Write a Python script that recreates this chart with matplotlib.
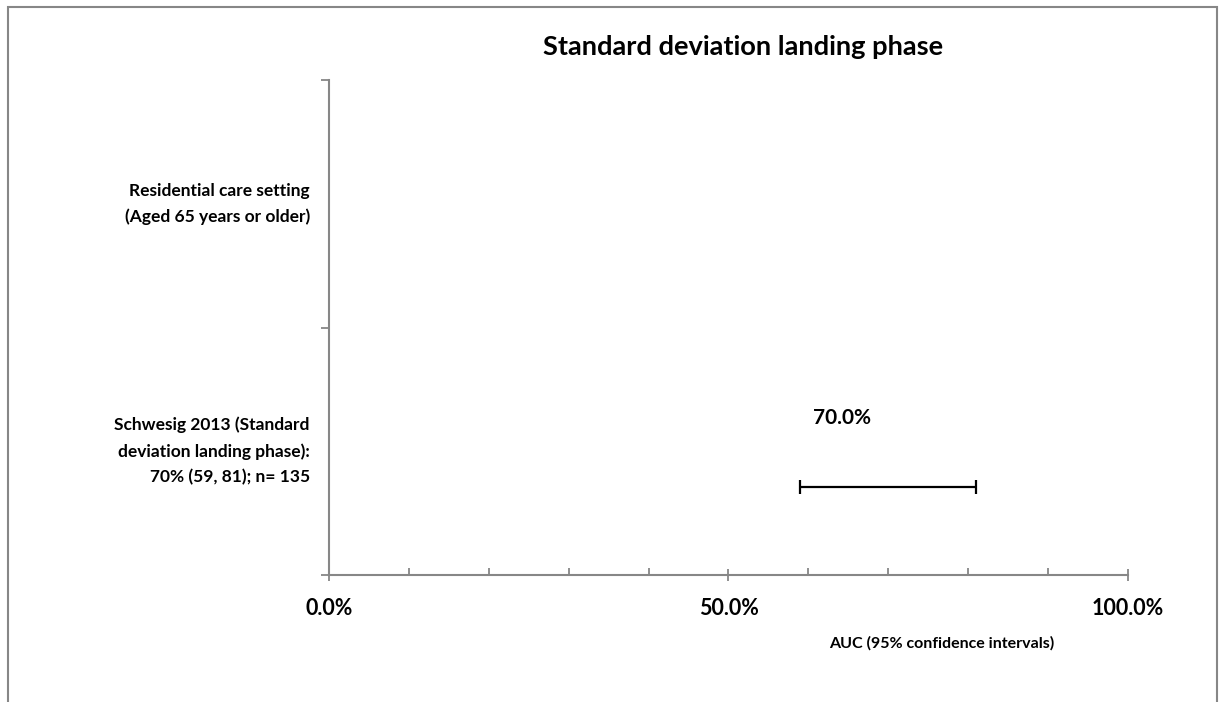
import matplotlib
matplotlib.use("Agg")
import matplotlib.pyplot as plt
from matplotlib.patches import Rectangle
from matplotlib.ticker import MultipleLocator, FuncFormatter

plt.rcParams['font.family'] = ['Lato', 'DejaVu Sans']
plt.rcParams['font.weight'] = 'bold'

title = "Standard deviation landing phase"
categories = ["Schwesig 2013 (Standard\ndeviation landing phase):\n70% (59, 81); n= 135",
              "Residential care setting\n(Aged 65 years or older)"]
auc = [70.0]
ci_low = [59.0]
ci_high = [81.0]
point_labels = ["70.0%"]
xlabel = "AUC (95% confidence intervals)"

W, H = 1224, 702
fig = plt.figure(figsize=(W / 100, H / 100), dpi=100)

def fx(px):
    return px / W

def fy(py):
    return 1 - py / H

ax_l, ax_r, ax_t, ax_b = 329, 1128, 80, 575
ax = fig.add_axes([fx(ax_l), fy(ax_b), fx(ax_r) - fx(ax_l), fy(ax_t) - fy(ax_b)])
ax.set_xlim(0, 100)
ax.set_ylim(0, 2)

gray = "#878787"
for s in ["top", "right"]:
    ax.spines[s].set_visible(False)
for s in ["left", "bottom"]:
    ax.spines[s].set_color(gray)
    ax.spines[s].set_linewidth(1.5)

# error bar (offset within the category band as in the reference)
bar_y = [0.355]
ax.errorbar(auc, bar_y, xerr=[[a - l for a, l in zip(auc, ci_low)],
                              [h - a for a, h in zip(auc, ci_high)]],
            fmt='none', ecolor='black', elinewidth=1.6, capsize=5, capthick=1.6)
for a, y, lab in zip(auc, bar_y, point_labels):
    ax.annotate(lab, xy=(a, y), xytext=(-46, 69), textcoords='offset pixels',
                ha='center', va='center', fontsize=15, fontweight='bold')

# x ticks
ax.xaxis.set_major_locator(MultipleLocator(50))
ax.xaxis.set_minor_locator(MultipleLocator(10))
ax.xaxis.set_major_formatter(FuncFormatter(lambda v, p: f"{v:.1f}%"))
ax.tick_params(axis='x', which='major', direction='inout', length=9, width=1.3,
               color=gray, labelsize=15.5, pad=12)
ax.tick_params(axis='x', which='minor', direction='in', length=5, width=1.3, color=gray)

# y ticks (category boundaries), labels at band centres
ax.set_yticks([0, 1, 2])
ax.set_yticklabels([])
ax.tick_params(axis='y', which='major', direction='out', length=6, width=1.3, color=gray)
for i, c in enumerate(categories):
    ax.text(-2.4, i + 0.5, c, ha='right', va='center', fontsize=12.5,
            fontweight='bold', linespacing=1.72, transform=ax.transData)

fig.text(fx(743), fy(47), title, ha='center', va='center', fontsize=19.6, fontweight='bold')
fig.text(fx(942), fy(643), xlabel, ha='center', va='center', fontsize=11.5, fontweight='bold')

# outer chart border
fig.patches.append(Rectangle((fx(8), fy(760)), fx(1217) - fx(8), fy(7) - fy(760),
                             transform=fig.transFigure, fill=False,
                             edgecolor=gray, linewidth=1.5))

fig.savefig("out.png", dpi=100)
